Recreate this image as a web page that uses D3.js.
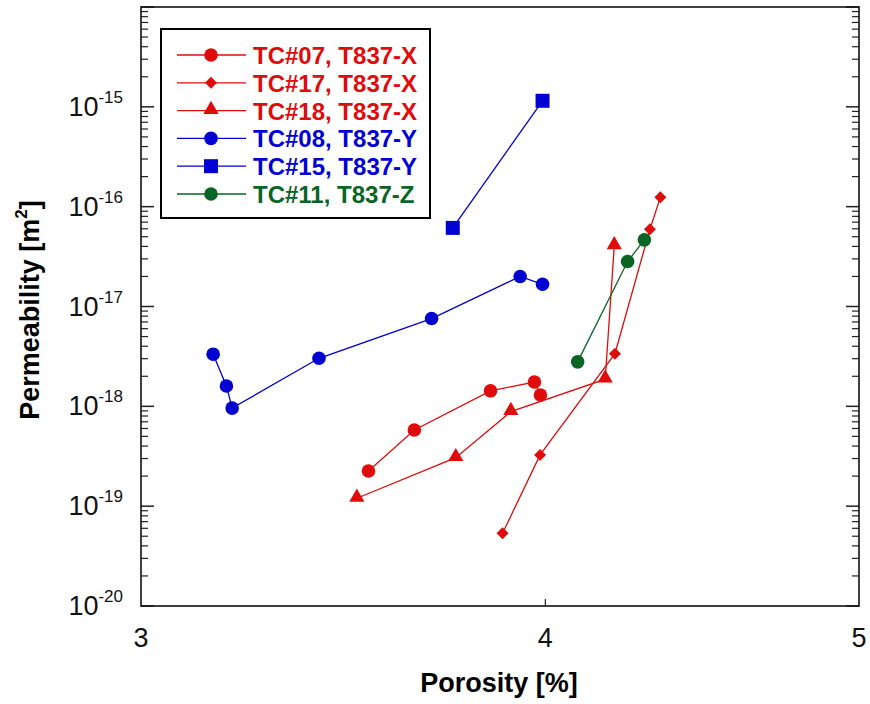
<!DOCTYPE html>
<html>
<head>
<meta charset="utf-8">
<script src="https://cdn.jsdelivr.net/npm/d3@7"></script>
<style>
  body { margin: 0; background: #fff; }
  svg { font-family: "Liberation Sans", Arial, sans-serif; }
</style>
</head>
<body>
<svg></svg>
<script>
// porosity [%] and permeability [m2]
var tc07Porosity = [3.527, 3.644, 3.847, 3.969, 3.986];
var tc07Perm = [2.25e-19, 5.8e-19, 1.43e-18, 1.75e-18, 1.30e-18];

var tc17Porosity = [3.880, 3.985, 4.203, 4.309, 4.341];
var tc17Perm = [5.35e-20, 3.26e-19, 3.37e-18, 5.95e-17, 1.24e-16];

var tc18Porosity = [3.498, 3.753, 3.903, 4.174, 4.201];
var tc18Perm = [1.2e-19, 3.06e-19, 8.85e-19, 1.87e-18, 4.05e-17];

var tc08Porosity = [3.158, 3.188, 3.201, 3.405, 3.689, 3.929, 3.992];
var tc08Perm = [3.33e-18, 1.6e-18, 9.6e-19, 3.03e-18, 7.57e-18, 2.0e-17, 1.67e-17];

var tc15Porosity = [3.745, 3.992];
var tc15Perm = [6.13e-17, 1.15e-15];

var tc11Porosity = [4.093, 4.241, 4.292];
var tc11Perm = [2.79e-18, 2.82e-17, 4.65e-17];

var seriesNames = ['TC#07, T837-X', 'TC#17, T837-X', 'TC#18, T837-X',
  'TC#08, T837-Y', 'TC#15, T837-Y', 'TC#11, T837-Z'];
var xTicks = [3, 4, 5];
var yExponents = [-20, -19, -18, -17, -16, -15];

var red = '#e00c0c', blue = '#0000d2', green = '#0a6424';

var series = [
  { name: seriesNames[0], x: tc07Porosity, y: tc07Perm, color: red, marker: 'circle' },
  { name: seriesNames[1], x: tc17Porosity, y: tc17Perm, color: red, marker: 'diamond' },
  { name: seriesNames[2], x: tc18Porosity, y: tc18Perm, color: red, marker: 'triangle' },
  { name: seriesNames[3], x: tc08Porosity, y: tc08Perm, color: blue, marker: 'circle' },
  { name: seriesNames[4], x: tc15Porosity, y: tc15Perm, color: blue, marker: 'square' },
  { name: seriesNames[5], x: tc11Porosity, y: tc11Perm, color: green, marker: 'circle' }
];

var svg = d3.select('svg')
  .attr('width', 870)
  .attr('height', 704);

var pLeft = 141, pRight = 859, pTop = 7, pBottom = 606;

var x = d3.scaleLog().domain([3, 5]).range([pLeft, pRight]);
var y = d3.scaleLog().domain([1e-20, 1e-14]).range([pBottom, pTop]);

var symbols = {
  circle: d3.symbol().type(d3.symbolCircle).size(145),
  diamond: d3.symbol().type(d3.symbolSquare).size(72),
  triangle: d3.symbol().type(d3.symbolTriangle).size(100),
  square: d3.symbol().type(d3.symbolSquare).size(196)
};
var markerTransform = function(marker, px, py) {
  if (marker === 'triangle') return 'translate(' + px + ',' + (py - 1) + ')';
  if (marker === 'diamond') return 'translate(' + px + ',' + py + ') rotate(45)';
  return 'translate(' + px + ',' + py + ')';
};

// minor + major ticks on left and right, inward
var g = svg.append('g');
var minor = [];
for (var e = -20; e < -14; e++) {
  for (var m = 2; m <= 9; m++) minor.push(m * Math.pow(10, e));
}
var major = [];
for (var e2 = -20; e2 <= -14; e2++) major.push(Math.pow(10, e2));

[pLeft, pRight].forEach(function(xx) {
  var dir = xx === pLeft ? 1 : -1;
  g.selectAll(null).data(minor).enter().append('line')
    .attr('x1', xx).attr('x2', xx + dir * 7)
    .attr('y1', function(d) { return y(d); })
    .attr('y2', function(d) { return y(d); })
    .attr('stroke', '#222').attr('stroke-width', 1.2);
  g.selectAll(null).data(major).enter().append('line')
    .attr('x1', xx).attr('x2', xx + dir * 13)
    .attr('y1', function(d) { return y(d); })
    .attr('y2', function(d) { return y(d); })
    .attr('stroke', '#222').attr('stroke-width', 1.5);
});

// x tick at 4
g.append('line')
  .attr('x1', x(4)).attr('x2', x(4))
  .attr('y1', pBottom).attr('y2', pBottom - 7)
  .attr('stroke', '#222').attr('stroke-width', 1.2);

// frame
svg.append('rect')
  .attr('x', pLeft).attr('y', pTop)
  .attr('width', pRight - pLeft).attr('height', pBottom - pTop)
  .attr('fill', 'none').attr('stroke', '#111').attr('stroke-width', 1.6);

// y tick labels
var yl = svg.append('g').attr('font-size', 27).attr('fill', '#111');
yExponents.forEach(function(ex) {
  var t = yl.append('text')
    .attr('x', 123)
    .attr('y', y(Math.pow(10, ex)) + 9)
    .attr('text-anchor', 'end');
  t.append('tspan').text('10');
  t.append('tspan').attr('font-size', 17).attr('dy', -13).text(ex);
});

// x tick labels
svg.append('g').selectAll('text').data(xTicks).enter().append('text')
  .attr('x', function(d) { return x(d); })
  .attr('y', 647)
  .attr('text-anchor', 'middle')
  .attr('font-size', 27)
  .attr('fill', '#111')
  .text(function(d) { return d; });

// axis titles
svg.append('text')
  .attr('x', 499).attr('y', 692)
  .attr('text-anchor', 'middle')
  .attr('font-size', 27).attr('font-weight', 'bold')
  .text('Porosity [%]');

var yt = svg.append('text')
  .attr('transform', 'translate(39,310) rotate(-90)')
  .attr('text-anchor', 'middle')
  .attr('font-size', 27).attr('font-weight', 'bold');
yt.append('tspan').text('Permeability [m');
yt.append('tspan').attr('font-size', 17).attr('dy', -12).text('2');
yt.append('tspan').attr('dy', 12).text(']');

// data
var line = d3.line()
  .x(function(d) { return x(d[0]); })
  .y(function(d) { return y(d[1]); });

series.forEach(function(s) {
  var pts = s.x.map(function(v, i) { return [v, s.y[i]]; });
  var sg = svg.append('g');
  sg.append('path')
    .attr('d', line(pts))
    .attr('fill', 'none')
    .attr('stroke', s.color)
    .attr('stroke-width', 1.3);
  sg.selectAll('path.mk').data(pts).enter().append('path')
    .attr('class', 'mk')
    .attr('d', symbols[s.marker])
    .attr('transform', function(d) {
      return markerTransform(s.marker, x(d[0]), y(d[1]));
    })
    .attr('fill', s.color);
});

// legend
var lg = svg.append('g');
lg.append('rect')
  .attr('x', 161).attr('y', 29)
  .attr('width', 269).attr('height', 189)
  .attr('fill', '#fff').attr('stroke', '#000').attr('stroke-width', 2);

series.forEach(function(s, i) {
  var ly = 55 + i * 27.8;
  lg.append('line')
    .attr('x1', 177).attr('x2', 246)
    .attr('y1', ly).attr('y2', ly)
    .attr('stroke', s.color).attr('stroke-width', 1.3);
  lg.append('path')
    .attr('d', symbols[s.marker])
    .attr('transform', markerTransform(s.marker, 211, ly))
    .attr('fill', s.color);
  lg.append('text')
    .attr('x', 253).attr('y', ly + 9)
    .attr('font-size', 24).attr('font-weight', 'bold')
    .attr('fill', s.color)
    .text(s.name);
});
</script>
</body>
</html>
